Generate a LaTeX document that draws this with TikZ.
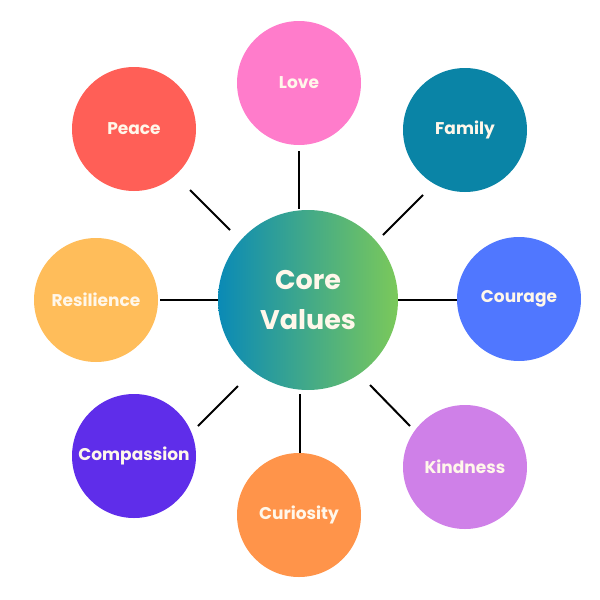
\documentclass[tikz,border=0pt]{standalone}
\usepackage{fontspec}
\setmainfont{Poppins}
\definecolor{lovec}{HTML}{FF7CCB}
\definecolor{familyc}{HTML}{0A84A6}
\definecolor{couragec}{HTML}{5077FF}
\definecolor{kindc}{HTML}{CF80E8}
\definecolor{curioc}{HTML}{FF944A}
\definecolor{compc}{HTML}{5F2DEA}
\definecolor{resilc}{HTML}{FFBD5A}
\definecolor{peacec}{HTML}{FF5F57}
\definecolor{coreL}{HTML}{0A8AB6}
\definecolor{coreR}{HTML}{7BC95A}
\definecolor{txt}{HTML}{FFF7EA}
\begin{document}
\begin{tikzpicture}[x=1pt,y=-1pt,
  value/.style={circle,minimum size=124pt,inner sep=0pt,text=txt,font=\fontsize{17}{19}\selectfont\bfseries},
  corebox/.style={circle,minimum size=180pt,inner sep=0pt,left color=coreL,right color=coreR,text=txt,align=center,font=\fontsize{27}{40}\selectfont\bfseries},
  conn/.style={line width=2pt,black}]
\useasboundingbox (0,0) rectangle (600,600);
\node[corebox] (core) at (308,300) {Core\\Values};
\node[value,fill=lovec] (love) at (299,83) {Love};
\node[value,fill=familyc] (family) at (465,130) {Family};
\node[value,fill=couragec] (courage) at (519,299) {Courage};
\node[value,fill=kindc] (kind) at (465,467) {Kindness};
\node[value,fill=curioc] (curio) at (299,515) {Curiosity};
\node[value,fill=compc] (comp) at (134,456) {Compassion};
\node[value,fill=resilc] (resil) at (96,300) {Resilience};
\node[value,fill=peacec] (peace) at (134,129) {Peace};
\coordinate (l1) at (299,151); \coordinate (l2) at (299,209);
\coordinate (f1) at (423,195); \coordinate (f2) at (383,235);
\coordinate (c1) at (457,300); \coordinate (c2) at (398,300);
\coordinate (k1) at (410,426); \coordinate (k2) at (370,385);
\coordinate (u1) at (300,453); \coordinate (u2) at (300,394);
\coordinate (m1) at (198,426); \coordinate (m2) at (238,386);
\coordinate (r1) at (160,300); \coordinate (r2) at (218,300);
\coordinate (p1) at (190,190); \coordinate (p2) at (230,230);
\draw[conn] (l1) -- (l2);
\draw[conn] (f1) -- (f2);
\draw[conn] (c1) -- (c2);
\draw[conn] (k1) -- (k2);
\draw[conn] (u1) -- (u2);
\draw[conn] (m1) -- (m2);
\draw[conn] (r1) -- (r2);
\draw[conn] (p1) -- (p2);
\end{tikzpicture}
\end{document}
